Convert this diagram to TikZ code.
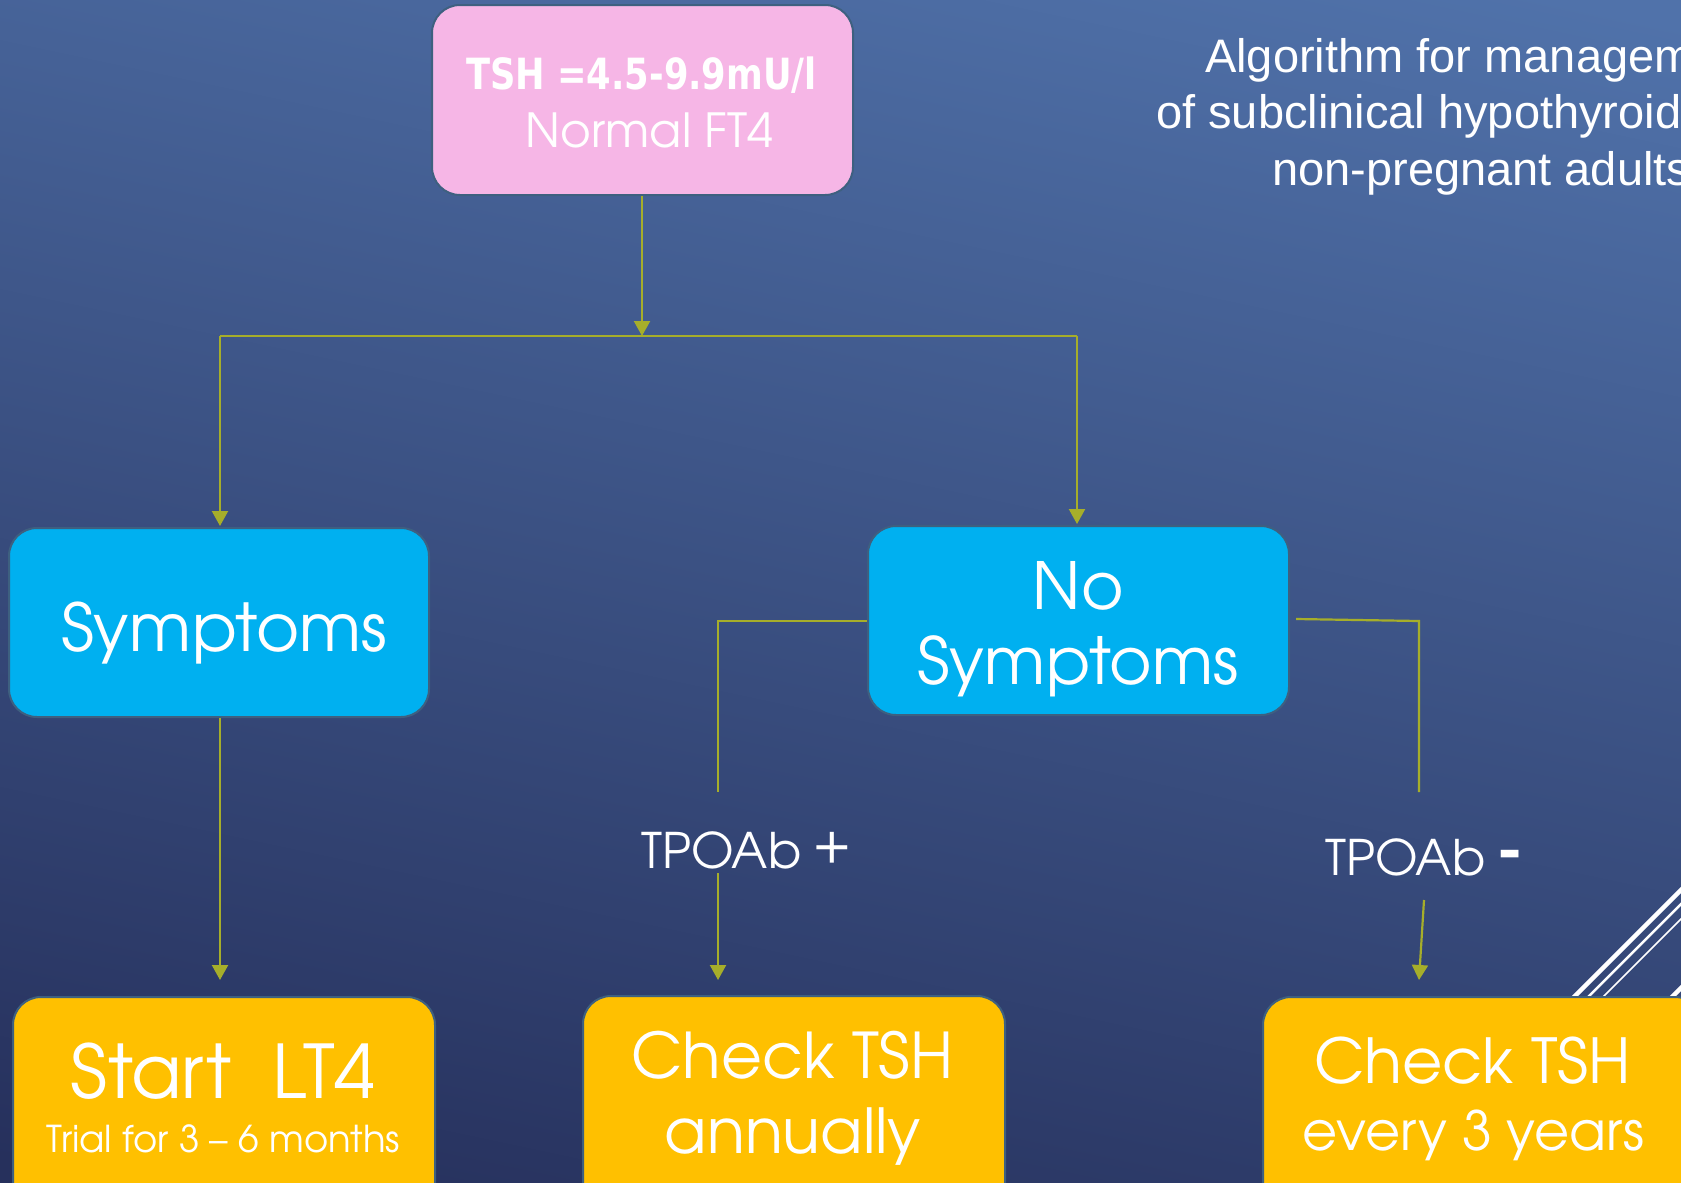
\documentclass[tikz,border=0pt]{standalone}
\usepackage{fontspec}
\setmainfont{TeX Gyre Adventor}
\newfontfamily\titlefont{Liberation Sans}
\newfontfamily\tshfont[FakeStretch=0.82]{DejaVu Sans}
\usetikzlibrary{arrows.meta}
\definecolor{bgtop}{RGB}{80,114,170}
\definecolor{bgmid}{RGB}{60,82,135}
\definecolor{bgbot}{RGB}{38,48,92}
\definecolor{pinkbox}{RGB}{246,182,230}
\definecolor{bluebox}{RGB}{0,176,240}
\definecolor{goldbox}{RGB}{255,192,0}
\definecolor{edgec}{RGB}{62,96,128}
\definecolor{connc}{RGB}{166,174,42}
\tikzset{
  box/.style={draw=edgec, line width=2pt, rounded corners=28pt, inner sep=0pt},
  txt/.style={text=white, inner sep=0pt, anchor=base, align=center},
  conn/.style={draw=connc, line width=2.2pt},
  arr/.style={conn, -{Triangle[width=16pt,length=15pt]}},
  deco/.style={draw=white}
}
\begin{document}
\begin{tikzpicture}[x=1pt,y=-1pt]
\useasboundingbox (0,0) rectangle (1681,1183);
\clip (0,0) rectangle (1681,1183);
\shade[top color=bgtop, middle color=bgmid, bottom color=bgbot, shading angle=-12] (-100,-100) rectangle (1781,1283);

% decorative diagonal lines
\draw[deco, line width=4.5pt] (1471,1100) -- (1791,780);
\draw[deco, line width=2.5pt] (1485,1100) -- (1805,780);
\draw[deco, line width=1.6pt] (1500,1100) -- (1820,780);
\draw[deco, line width=4.5pt] (1569,1100) -- (1889,780);

% boxes
\node[box, fill=pinkbox, minimum width=421pt, minimum height=190pt] (tsh) at (642.5,100) {};
\node[box, fill=bluebox, minimum width=420pt, minimum height=189pt] (sym) at (219,622.5) {};
\node[box, fill=bluebox, minimum width=421pt, minimum height=189pt] (nosym) at (1078.5,620.5) {};
\node[box, fill=goldbox, minimum width=422pt, minimum height=260pt] (lt4) at (224,1127) {};
\node[box, fill=goldbox, minimum width=422pt, minimum height=260pt] (annual) at (794,1126) {};
\node[box, fill=goldbox, minimum width=440pt, minimum height=260pt] (three) at (1483,1127) {};

% connector coordinates
\coordinate (split) at (642,336);
\coordinate (splitL) at (220,336);
\coordinate (splitR) at (1077,336);
\coordinate (symEnd) at (220,980);
\coordinate (posTop) at (718,621);
\coordinate (posEnd) at (718,792);
\coordinate (posStart) at (718,873);
\coordinate (posTip) at (718,980);
\coordinate (negBeg) at (1296,619);
\coordinate (negTop) at (1419,621);
\coordinate (negEnd) at (1419,792);
\coordinate (negStart) at (1424,900);
\coordinate (negTip) at (1419,980);

% connectors
\draw[arr] (tsh.south -| split) -- (split);
\draw[conn] (splitL) -- (splitR);
\draw[arr] (splitL) -- ([yshift=1pt]splitL |- sym.north);
\draw[arr] (splitR) -- ([yshift=1pt]splitR |- nosym.north);
\draw[arr] (symEnd |- sym.south) -- (symEnd);
\draw[conn] (nosym.west |- posTop) -- (posTop) -- (posEnd);
\draw[arr] (posStart) -- (posTip);
\draw[conn] (negBeg) -- (negTop) -- (negEnd);
\draw[arr] (negStart) -- (negTip);

% texts
\node[txt] (tshA) at (641.5,89) {\fontsize{43}{43}\selectfont\tshfont\bfseries TSH =4.5-9.9mU/l};
\node[txt] (tshB) at (649.5,147) {\fontsize{47}{47}\selectfont Normal FT4};
\node[txt] (symT) at (224,651) {\fontsize{66}{66}\selectfont Symptoms};
\node[txt] (noT) at (1078.5,609) {\fontsize{65}{65}\selectfont No};
\node[txt] (nosymT) at (1078,684) {\fontsize{65}{65}\selectfont Symptoms};
\node[txt] (lt4A) at (223,1098) {\fontsize{74}{74}\selectfont Start\ \ LT4};
\node[txt] (lt4B) at (223.5,1152) {\fontsize{37}{37}\selectfont Trial for 3 – 6 months};
\node[txt] (annA) at (792.5,1078) {\fontsize{63}{63}\selectfont Check TSH};
\node[txt] (annB) at (793,1153) {\fontsize{62}{62}\selectfont annually};
\node[txt] (thrA) at (1472.5,1083) {\fontsize{62}{62}\selectfont Check TSH};
\node[txt] (thrB) at (1473.5,1150) {\fontsize{54}{54}\selectfont every 3 years};
\node[txt, anchor=base west] (posL) at (641,868) {\fontsize{49}{49}\selectfont TPOAb};
\node[txt, anchor=base west] (posS) at (812,861) {\fontsize{55}{55}\selectfont +};
\node[txt, anchor=base west] (negL) at (1325,875) {\fontsize{49}{49}\selectfont TPOAb};
\node[txt, anchor=base west] (negS) at (1496,872) {\fontsize{64}{64}\selectfont\bfseries -};

% title
\node[txt, anchor=base west] (title1) at (1205,72) {\titlefont\fontsize{47}{47}\selectfont Algorithm for managem};
\node[txt, anchor=base west] (title2) at (1156,128) {\titlefont\fontsize{47}{47}\selectfont of subclinical hypothyroid};
\node[txt, anchor=base west] (title3) at (1272,185) {\titlefont\fontsize{47}{47}\selectfont non-pregnant adults};
\end{tikzpicture}
\end{document}
